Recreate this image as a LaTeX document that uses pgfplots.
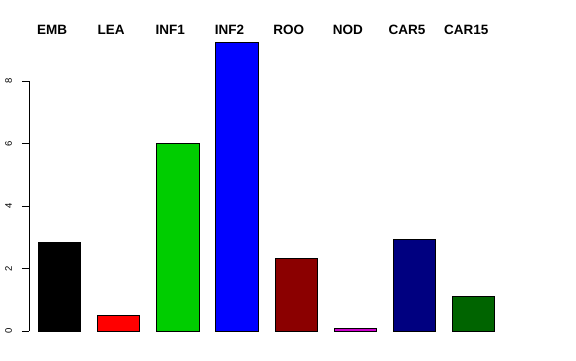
\documentclass[border=0pt]{standalone}
\usepackage{pgfplots}
\pgfplotsset{compat=1.18}
\usepackage{fontspec}
\setmainfont{Liberation Sans}
\definecolor{green3}{HTML}{00CD00}
\definecolor{darkred}{HTML}{8B0000}
\definecolor{magenta3}{HTML}{CD00CD}
\definecolor{navy}{HTML}{000080}
\definecolor{darkgreen}{HTML}{006400}
\begin{document}
\begin{tikzpicture}[lab/.style={anchor=base, xshift=-7.5pt, inner sep=0pt, font=\fontsize{13.5}{16}\bfseries\selectfont}]
\path[use as bounding box] (-29pt,-29pt) rectangle (547pt,331pt);
\begin{axis}[at={(0,0)}, anchor=south west, scale only axis,
  width=474.3pt, height=290.3pt,
  xmin=0.4845, xmax=8.5, ymin=0, ymax=9.3,
  axis x line=none, axis y line*=left, y axis line style={draw=none},
  ytick={0,2,4,6,8}, xtick=\empty, tick align=outside, major tick length=7pt,
  tick style={black, line width=0.8pt},
  /pgf/number format/assume math mode=true,
  yticklabel style={xshift=-10pt, rotate=90, anchor=base, inner sep=0pt, font=\fontsize{9.5}{11}\selectfont},
  ybar, bar shift=0pt, bar width=0.715,
  clip=false,
  every axis plot/.append style={draw=black, line width=0.8pt},
]
\addplot[fill=black] coordinates {(1,2.83)};
\addplot[fill=red] coordinates {(2,0.51)};
\addplot[fill=green3] coordinates {(3,6.00)};
\addplot[fill=blue] coordinates {(4,9.24)};
\addplot[fill=darkred] coordinates {(5,2.31)};
\addplot[fill=magenta3] coordinates {(6,0.09)};
\addplot[fill=navy] coordinates {(7,2.95)};
\addplot[fill=darkgreen] coordinates {(8,1.10)};
\draw[line width=0.8pt] (axis cs:0.4845,0) -- (axis cs:0.4845,8);
\node[lab] at (axis cs:1,9.506) {EMB};
\node[lab] at (axis cs:2,9.506) {LEA};
\node[lab] at (axis cs:3,9.506) {INF1};
\node[lab] at (axis cs:4,9.506) {INF2};
\node[lab] at (axis cs:5,9.506) {ROO};
\node[lab] at (axis cs:6,9.506) {NOD};
\node[lab] at (axis cs:7,9.506) {CAR5};
\node[lab] at (axis cs:8,9.506) {CAR15};
\end{axis}
\end{tikzpicture}
\end{document}
